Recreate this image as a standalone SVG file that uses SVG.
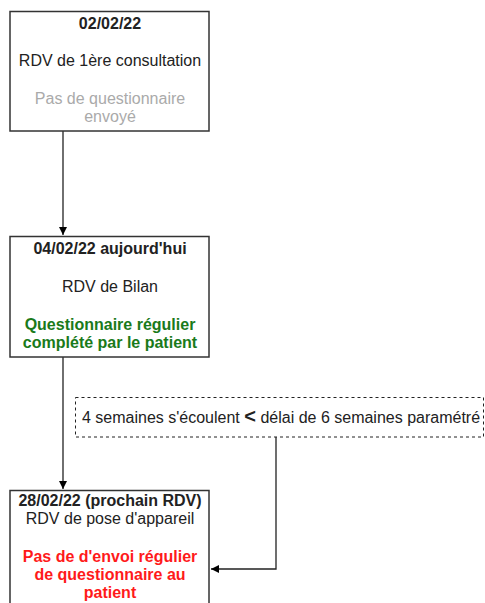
<svg xmlns="http://www.w3.org/2000/svg" width="485" height="603" viewBox="0 0 485 603">
<defs>
<style>
.box{fill:#fff;stroke:#333;stroke-width:1.5}
.t{font-family:"Liberation Sans",Arial,Helvetica,sans-serif;font-size:16px;fill:#222;text-anchor:middle}
.b{font-weight:bold}
.gray{fill:#aaa}
.green{fill:#1a7a1a;font-weight:bold}
.red{fill:#ff1a1a;font-weight:bold}
.edge{fill:none;stroke:#222;stroke-width:1.3}
</style>
<marker id="arr" viewBox="0 0 10 10" refX="10" refY="5" markerWidth="8" markerHeight="8" markerUnits="userSpaceOnUse" orient="auto">
<path d="M0,0 L10,5 L0,10 Z" fill="#000"/>
</marker>
</defs>
<rect width="485" height="603" fill="#fff"/>
<g id="connectors">
<path class="edge" d="M63,131 V235" marker-end="url(#arr)"/>
<path class="edge" d="M63,357 V489" marker-end="url(#arr)"/>
<path class="edge" d="M276,437 V569 H211" marker-end="url(#arr)"/>
</g>
<g id="node1">
<rect class="box" x="10" y="11.5" width="199" height="119.5"/>
<text class="t b" x="110" y="29">02/02/22</text>
<text class="t" x="110" y="66">RDV de 1ère consultation</text>
<text class="t gray" x="110" y="104">Pas de questionnaire</text>
<text class="t gray" x="110" y="122">envoyé</text>
</g>
<g id="node2">
<rect class="box" x="10" y="236.5" width="199" height="120.5"/>
<text class="t b" x="110" y="254">04/02/22 aujourd'hui</text>
<text class="t" x="110" y="292">RDV de Bilan</text>
<text class="t green" x="110" y="330">Questionnaire régulier</text>
<text class="t green" x="110" y="348">complété par le patient</text>
</g>
<g id="node3">
<rect class="box" x="10" y="490.5" width="199" height="120"/>
<text class="t b" x="110" y="506">28/02/22 (prochain RDV)</text>
<text class="t" x="110" y="524">RDV de pose d'appareil</text>
<text class="t red" x="110" y="562">Pas de d'envoi régulier</text>
<text class="t red" x="110" y="580">de questionnaire au</text>
<text class="t red" x="110" y="598">patient</text>
</g>
<g id="note">
<rect x="75.5" y="397.5" width="408" height="39.5" fill="#fff" stroke="#222" stroke-width="1" stroke-dasharray="3,3"/>
<text class="t" x="82" y="423" style="text-anchor:start">4 semaines s'écoulent <tspan font-weight="bold" font-size="20">&lt;</tspan> délai de 6 semaines paramétré</text>
</g>
</svg>
